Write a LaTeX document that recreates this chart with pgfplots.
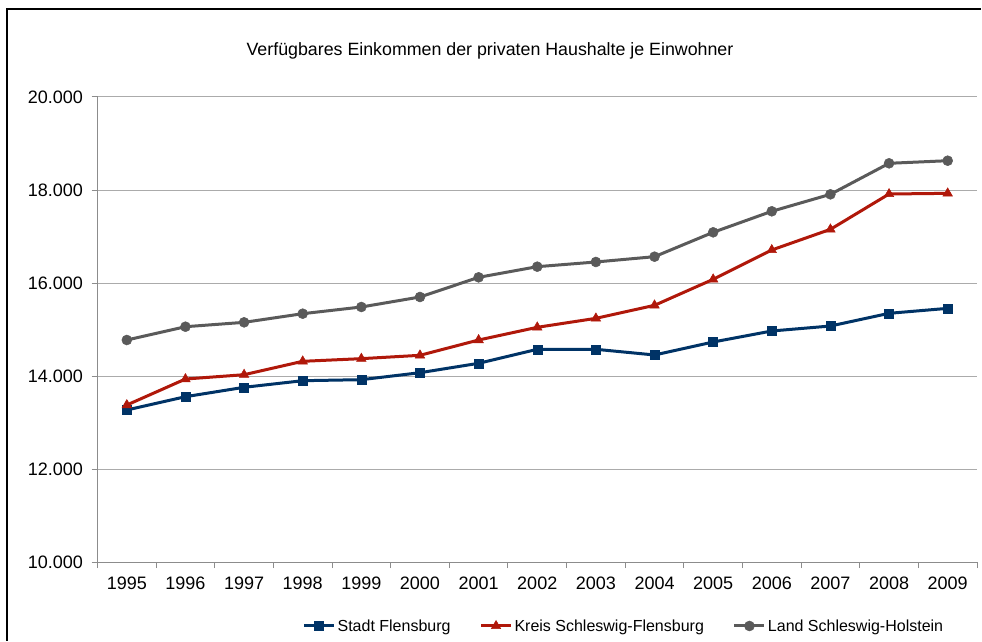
\documentclass[border=0pt]{standalone}
\usepackage{fontspec}
\setmainfont{Liberation Sans}
\usepackage{pgfplots}
\pgfplotsset{compat=1.18}
\definecolor{cblue}{HTML}{003366}
\definecolor{cred}{HTML}{B0180A}
\definecolor{cgray}{HTML}{5A5A5A}
\definecolor{gridc}{HTML}{ABABAB}
\definecolor{axisc}{HTML}{8C8C8C}
\begin{document}
\begin{tikzpicture}[x=1pt,y=1pt]
\useasboundingbox (0,0) rectangle (982,641);
\fill[black] (6,0) rectangle (8,632.5);
\fill[black] (6,630.5) rectangle (981,632.5);
\node[font=\fontsize{17.8}{21}\selectfont] at (490,590) {Verfügbares Einkommen der privaten Haushalte je Einwohner};
\begin{axis}[
  at={(97.5pt,79pt)}, anchor=south west,
  width=879.5pt, height=465pt, scale only axis,
  xmin=-0.5, xmax=14.5, ymin=10000, ymax=20000,
  axis lines=left,
  axis line style={draw=axisc, line width=1pt, -},
  ytick={10000,12000,...,20000},
  ymajorgrids, grid style={draw=gridc, line width=1pt},
  xtick={0,...,14},
  xticklabels={1995,1996,1997,1998,1999,2000,2001,2002,2003,2004,2005,2006,2007,2008,2009},
  minor xtick={-0.5,0.5,...,14.5},
  major x tick style={draw=none},
  tick style={draw=axisc, line width=1pt},
  tick align=outside,
  major tick length=6pt, minor tick length=6pt,
  scaled y ticks=false,
  ticklabel style={font=\fontsize{18}{21}\selectfont},
  xticklabel style={yshift=-5pt},
  yticklabel style={xshift=-5pt, /pgf/number format/.cd, fixed, precision=0, 1000 sep={.}, assume math mode=true},
  legend columns=3,
  legend style={at={(0.5985,-0.1376)}, anchor=center, draw=none, fill=none,
    font=\fontsize{16}{18}\selectfont,
    /tikz/every even column/.append style={column sep=27pt}},
  legend image code/.code={\draw[mark repeat=2,mark phase=2,#1] plot coordinates {(0pt,0pt) (15pt,0pt) (30pt,0pt)};},
  clip=false,
]
\addplot[cblue, line width=3pt, mark=square*, mark size=4.5pt, mark options={solid, line width=0.5pt}] coordinates {
(0,13269) (1,13555) (2,13757) (3,13899) (4,13921) (5,14071) (6,14273) (7,14574) (8,14574) (9,14452) (10,14731) (11,14968) (12,15075) (13,15348) (14,15455)};
\addlegendentry{Stadt Flensburg}
\addplot[cred, line width=3pt, mark=triangle*, mark size=5.5pt, mark options={solid, line width=0.5pt}] coordinates {
(0,13376) (1,13935) (2,14028) (3,14316) (4,14373) (5,14445) (6,14774) (7,15047) (8,15240) (9,15520) (10,16079) (11,16710) (12,17154) (13,17914) (14,17928)};
\addlegendentry{Kreis Schleswig-Flensburg}
\addplot[cgray, line width=3pt, mark=*, mark size=5pt, mark options={solid, line width=0.5pt}] coordinates {
(0,14774) (1,15060) (2,15154) (3,15340) (4,15484) (5,15699) (6,16122) (7,16351) (8,16452) (9,16566) (10,17090) (11,17542) (12,17907) (13,18574) (14,18630)};
\addlegendentry{Land Schleswig-Holstein}
\end{axis}
\end{tikzpicture}
\end{document}
